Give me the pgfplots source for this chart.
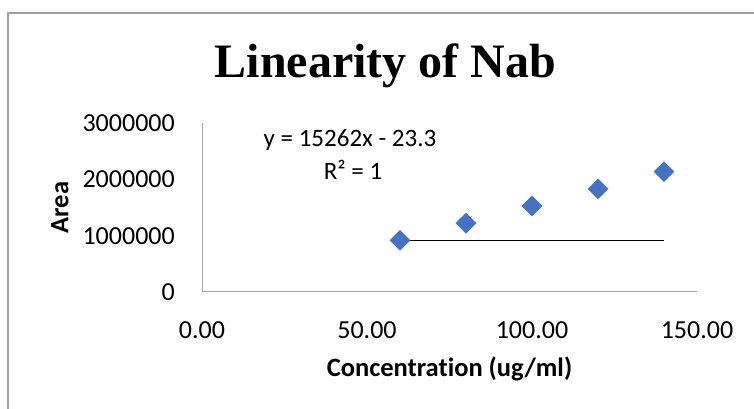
\documentclass[border=0pt]{standalone}
\usepackage{fontspec}
\setmainfont{Carlito}[RawFeature=-liga]
\newfontfamily\titlefont{Liberation Serif}
\usepackage{pgfplots}
\pgfplotsset{compat=1.18}
\definecolor{mblue}{HTML}{4472C4}
\definecolor{framegray}{HTML}{A0A0A0}
\definecolor{axgray}{HTML}{A6A6A6}
\begin{document}
\begin{tikzpicture}[x=1pt,y=1pt]
\path[use as bounding box] (0,0) rectangle (754,409);
\draw[framegray, line width=1.5pt] (8,0) -- (8,396) -- (754,396);
\begin{axis}[
  at={(202pt,117pt)}, anchor=south west,
  scale only axis, width=495pt, height=169pt,
  xmin=0, xmax=150, ymin=0, ymax=3000000,
  axis x line*=bottom, axis y line*=left,
  axis line style={axgray, line width=1pt, -},
  xtick={0,50,100,150}, xticklabels={0.00,50.00,100.00,150.00},
  ytick={0,1000000,2000000,3000000}, yticklabels={0,1000000,2000000,3000000},
  scaled y ticks=false,
  major tick length=0pt,
  /pgf/number format/assume math mode=true,
  tick label style={font=\fontsize{26}{30}\selectfont, inner sep=0pt},
  xticklabel style={anchor=north, yshift=-29pt},
  yticklabel style={anchor=east, xshift=-27pt},
  xlabel={Concentration (ug/ml)}, ylabel={Area},
  label style={font=\bfseries\fontsize{26.5}{30}\selectfont},
  xlabel style={at={(axis description cs:0.5,-0.456)}, anchor=center},
  ylabel style={at={(axis description cs:-0.287,0.5)}, anchor=center},
  clip=false,
]
\addplot[only marks, mark=square*, mark size=7.1pt, mark options={rotate=45, fill=mblue, draw=mblue}]
  coordinates {(60,915700) (80,1221000) (100,1526000) (120,1831400) (140,2136600)};
\addplot[black, line width=1.5pt] coordinates {(60,915700) (140,915700)};
\end{axis}
\node[font=\titlefont\bfseries\fontsize{48}{54}\selectfont, anchor=base] at (385.5,331) {Linearity of Nab};
\node[font=\fontsize{25}{30}\selectfont, anchor=base] at (350,262.3) {y = 15262x - 23.3};
\node[font=\fontsize{25}{30}\selectfont, anchor=base] at (353,229) {R² = 1};
\end{tikzpicture}
\end{document}
